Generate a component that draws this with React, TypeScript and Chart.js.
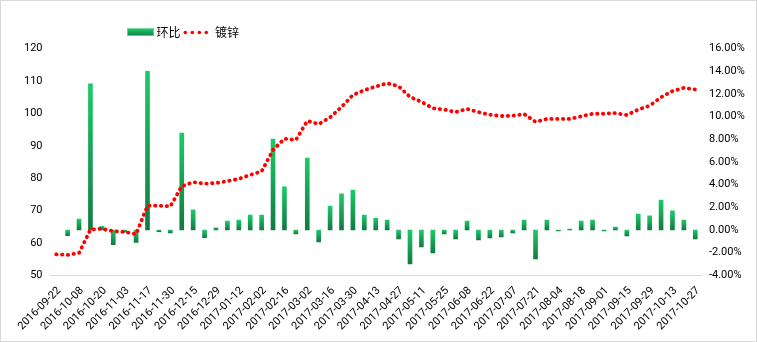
import React, { useEffect, useRef } from 'react';
import { Chart, registerables } from 'chart.js';

Chart.register(...registerables);

// ---------- data ----------
const categories: string[] = [
  '2016-09-22', '2016-09-29', '2016-10-08', '2016-10-14', '2016-10-20', '2016-10-27',
  '2016-11-03', '2016-11-10', '2016-11-17', '2016-11-24', '2016-11-30', '2016-12-08',
  '2016-12-15', '2016-12-22', '2016-12-29', '2017-01-05', '2017-01-12', '2017-01-19',
  '2017-02-02', '2017-02-09', '2017-02-16', '2017-02-23', '2017-03-02', '2017-03-09',
  '2017-03-16', '2017-03-23', '2017-03-30', '2017-04-06', '2017-04-13', '2017-04-20',
  '2017-04-27', '2017-05-04', '2017-05-11', '2017-05-18', '2017-05-25', '2017-06-01',
  '2017-06-08', '2017-06-15', '2017-06-22', '2017-06-29', '2017-07-07', '2017-07-14',
  '2017-07-21', '2017-07-28', '2017-08-04', '2017-08-11', '2017-08-18', '2017-08-25',
  '2017-09-01', '2017-09-08', '2017-09-15', '2017-09-22', '2017-09-29', '2017-10-09',
  '2017-10-13', '2017-10-20', '2017-10-27',
];

// 环比 (%), right axis
const changePct: (number | null)[] = [
  null, -0.5, 0.97, 12.9, 0.33, -1.3, -0.2, -1.1, 14.0, -0.15,
  -0.25, 8.56, 1.77, -0.68, 0.18, 0.79, 0.88, 1.32, 1.32, 8.03,
  3.8, -0.35, 6.35, -1.06, 2.12, 3.18, 3.53, 1.32, 1.06, 0.88,
  -0.79, -3.0, -1.5, -2.03, -0.35, -0.79, 0.79, -0.88, -0.71, -0.62,
  -0.26, 0.88, -2.56, 0.88, -0.09, 0.09, 0.79, 0.88, -0.09, 0.26,
  -0.53, 1.41, 1.24, 2.65, 1.68, 0.88, -0.79,
];

// 镀锌, left axis
const zincIndex: number[] = [
  56.5, 56.3, 56.9, 64.1, 64.4, 63.6, 63.4, 62.7, 71.5, 71.5,
  71.3, 77.5, 78.8, 78.3, 78.5, 79.1, 79.8, 81.0, 82.1, 88.7,
  92.2, 91.8, 97.7, 96.7, 98.8, 102.0, 105.7, 107.2, 108.3, 109.3,
  108.4, 105.1, 103.6, 101.6, 101.2, 100.4, 101.4, 100.4, 99.6, 99.2,
  99.3, 99.8, 97.4, 98.3, 98.3, 98.3, 99.1, 99.9, 99.9, 100.1,
  99.5, 101.2, 102.4, 105.0, 106.9, 107.9, 107.4,
];

const leftAxis = { min: 50, max: 120, step: 10 };
const rightAxis = { min: -4, max: 16, step: 2 };
const seriesNames = ['环比', '镀锌'];

const FONT = 'Roboto';
const CJK = '"Noto Sans CJK SC"';

export default function App() {
  const ref = useRef<HTMLCanvasElement>(null);

  useEffect(() => {
    document.body.style.margin = '0';
    const canvas = ref.current;
    if (!canvas) return;

    const legendPlugin = {
      id: 'customLegend',
      afterDraw(chart: any) {
        const c: CanvasRenderingContext2D = chart.ctx;
        c.save();
        // chart border
        c.strokeStyle = '#D9D9D9';
        c.lineWidth = 1;
        c.strokeRect(0.5, 0.5, chart.width - 1, chart.height - 1);
        // bar legend box
        const g = c.createLinearGradient(0, 28, 0, 36);
        g.addColorStop(0, '#22D06E');
        g.addColorStop(1, '#0F7E42');
        c.fillStyle = g;
        c.fillRect(127, 28.5, 27, 7.5);
        c.strokeStyle = 'rgba(120,220,160,0.8)';
        c.lineWidth = 1;
        c.strokeRect(127.5, 28.5, 26, 7);
        // text
        c.fillStyle = '#000';
        c.font = `12px ${CJK}`;
        c.textBaseline = 'middle';
        c.textAlign = 'left';
        c.fillText(seriesNames[0], 156.5, 32.5);
        // dotted line sample
        c.fillStyle = '#FF0000';
        [185.3, 192.3, 199.3, 206.3].forEach((x) => {
          c.beginPath();
          c.arc(x, 32.5, 1.8, 0, Math.PI * 2);
          c.fill();
        });
        c.fillStyle = '#000';
        c.fillText(seriesNames[1], 215, 32.5);
        c.restore();
      },
    };

    const barColor = (ctx: any) => {
      const chart = ctx.chart;
      const v = ctx.raw;
      const ys = chart.scales && chart.scales.y1;
      if (!chart.chartArea || v == null || !ys) return '#19B35C';
      const a = ys.getPixelForValue(v);
      const b = ys.getPixelForValue(0);
      const top = Math.min(a, b);
      const bot = Math.max(a, b);
      if (bot - top < 1) return '#18B05A';
      const g = chart.ctx.createLinearGradient(0, top, 0, bot);
      g.addColorStop(0, '#1CCB69');
      g.addColorStop(1, '#117A43');
      return g;
    };

    const chart = new Chart(canvas, {
      type: 'bar',
      data: {
        labels: categories,
        datasets: [
          {
            type: 'line',
            label: seriesNames[1],
            data: zincIndex,
            yAxisID: 'y',
            borderColor: '#FF0000',
            backgroundColor: '#FF0000',
            borderWidth: 3.8,
            borderDash: [0.4, 5.4],
            borderCapStyle: 'round',
            pointRadius: 0,
            tension: 0,
            fill: false,
            order: 0,
          } as any,
          {
            type: 'bar',
            label: seriesNames[0],
            data: changePct,
            yAxisID: 'y1',
            backgroundColor: barColor,
            borderWidth: 0,
            barThickness: 4,
            order: 1,
          } as any,
        ],
      },
      options: {
        responsive: false,
        animation: false,
        devicePixelRatio: 1,
        layout: { padding: { top: 48.7, left: 0, right: 0, bottom: 0 } },
        plugins: {
          legend: { display: false },
          tooltip: { enabled: false },
          title: { display: false },
        },
        scales: {
          x: {
            type: 'category',
            offset: true,
            grid: { display: false, drawTicks: false },
            border: { display: true, color: '#D9D9D9', width: 1 },
            ticks: {
              autoSkip: false,
              minRotation: 45,
              maxRotation: 45,
              padding: 9,
              labelOffset: 3,
              color: '#000',
              font: { family: FONT, size: 11 },
              callback: function (this: any, val: any, idx: number) {
                return idx % 2 === 0 ? this.getLabelForValue(val) : '';
              },
            },
            afterFit: (scale: any) => {
              scale.height = 342 - 275.3;
            },
          },
          y: {
            type: 'linear',
            position: 'left',
            min: leftAxis.min,
            max: leftAxis.max,
            grid: { display: false, drawTicks: false },
            border: { display: false },
            ticks: {
              stepSize: leftAxis.step,
              padding: 8,
              color: '#000',
              font: { family: FONT, size: 11 },
            },
            afterFit: (scale: any) => {
              scale.width = 50.5;
            },
          },
          y1: {
            type: 'linear',
            position: 'right',
            min: rightAxis.min,
            max: rightAxis.max,
            grid: { display: false, drawTicks: false },
            border: { display: false },
            ticks: {
              stepSize: rightAxis.step,
              padding: 8,
              color: '#000',
              font: { family: FONT, size: 11 },
              callback: (v: any) => Number(v).toFixed(2) + '%',
            },
            afterFit: (scale: any) => {
              scale.width = 757 - 701;
            },
          },
        },
      },
      plugins: [legendPlugin],
    });

    return () => chart.destroy();
  }, []);

  return (
    <div style={{ width: 757, height: 342, position: 'relative', background: '#fff' }}>
      <canvas ref={ref} width={757} height={342} style={{ display: 'block' }} />
    </div>
  );
}
